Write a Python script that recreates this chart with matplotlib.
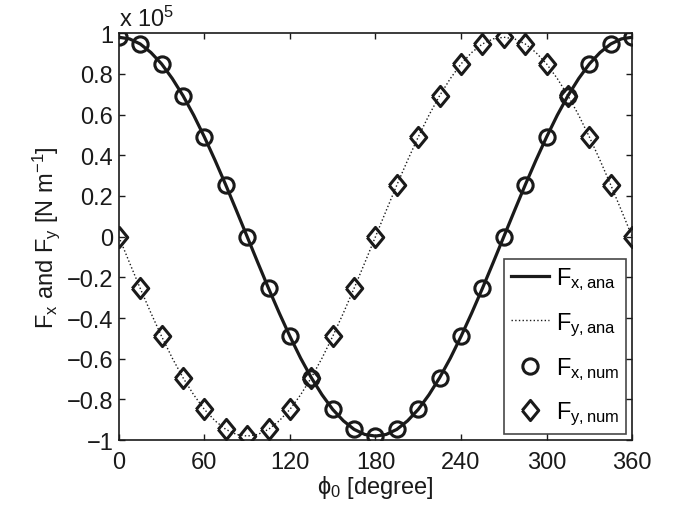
import numpy as np
import matplotlib
matplotlib.use('Agg')
import matplotlib.pyplot as plt

plt.rcParams['font.family'] = ['Liberation Sans', 'DejaVu Sans']
plt.rcParams['mathtext.fontset'] = 'custom'
plt.rcParams['mathtext.rm'] = 'Liberation Sans'
plt.rcParams['mathtext.it'] = 'Liberation Sans'
plt.rcParams['mathtext.sf'] = 'Liberation Sans'

# forces in units of 1e5 N/m
phi_ana = [0, 7.5, 15, 22.5, 30, 37.5, 45, 52.5, 60, 67.5, 75, 82.5, 90,
           97.5, 105, 112.5, 120, 127.5, 135, 142.5, 150, 157.5, 165, 172.5, 180,
           187.5, 195, 202.5, 210, 217.5, 225, 232.5, 240, 247.5, 255, 262.5, 270,
           277.5, 285, 292.5, 300, 307.5, 315, 322.5, 330, 337.5, 345, 352.5, 360]
fx_ana = [0.98, 0.972, 0.947, 0.905, 0.849, 0.777, 0.693, 0.597, 0.49, 0.375, 0.254, 0.128, 0,
          -0.128, -0.254, -0.375, -0.49, -0.597, -0.693, -0.777, -0.849, -0.905, -0.947, -0.972, -0.98,
          -0.972, -0.947, -0.905, -0.849, -0.777, -0.693, -0.597, -0.49, -0.375, -0.254, -0.128, 0,
          0.128, 0.254, 0.375, 0.49, 0.597, 0.693, 0.777, 0.849, 0.905, 0.947, 0.972, 0.98]
fy_ana = [0, -0.128, -0.254, -0.375, -0.49, -0.597, -0.693, -0.777, -0.849, -0.905, -0.947, -0.972, -0.98,
          -0.972, -0.947, -0.905, -0.849, -0.777, -0.693, -0.597, -0.49, -0.375, -0.254, -0.128, 0,
          0.128, 0.254, 0.375, 0.49, 0.597, 0.693, 0.777, 0.849, 0.905, 0.947, 0.972, 0.98,
          0.972, 0.947, 0.905, 0.849, 0.777, 0.693, 0.597, 0.49, 0.375, 0.254, 0.128, 0]

phi_num = [0, 15, 30, 45, 60, 75, 90, 105, 120, 135, 150, 165, 180,
           195, 210, 225, 240, 255, 270, 285, 300, 315, 330, 345, 360]
fx_num = [0.98, 0.947, 0.849, 0.693, 0.49, 0.254, 0, -0.254, -0.49, -0.693, -0.849, -0.947, -0.98,
          -0.947, -0.849, -0.693, -0.49, -0.254, 0, 0.254, 0.49, 0.693, 0.849, 0.947, 0.98]
fy_num = [0, -0.254, -0.49, -0.693, -0.849, -0.947, -0.98, -0.947, -0.849, -0.693, -0.49, -0.254, 0,
          0.254, 0.49, 0.693, 0.849, 0.947, 0.98, 0.947, 0.849, 0.693, 0.49, 0.254, 0]

fig = plt.figure(figsize=(6.79, 5.10), dpi=100)
ax = fig.add_axes([0.175, 0.135, 0.756, 0.798])

fs = 17
k = '#1a1a1a'
diamond = [(-0.82, 0), (0, 1), (0.82, 0), (0, -1), (-0.82, 0)]

ax.plot(phi_ana, fx_ana, '-', color=k, lw=2.3, label=r'$\mathregular{F_{x,ana}}$')
ax.plot(phi_ana, fy_ana, ':', color=k, lw=1.0, label=r'$\mathregular{F_{y,ana}}$')
ax.plot(phi_num, fx_num, 'o', color=k, mfc='none', ms=11, mew=2.2, label=r'$\mathregular{F_{x,num}}$')
ax.plot(phi_num, fy_num, marker=diamond, ls='none', color=k, mfc='none', ms=14.5, mew=2.2,
        label=r'$\mathregular{F_{y,num}}$')

ax.set_xlim(0, 360)
ax.set_ylim(-1, 1)
ax.set_xticks([0, 60, 120, 180, 240, 300, 360])
yt = [-1, -0.8, -0.6, -0.4, -0.2, 0, 0.2, 0.4, 0.6, 0.8, 1]
ax.set_yticks(yt)
ax.set_yticklabels([('%g' % v).replace('-', '\u2212') for v in yt])
ax.tick_params(direction='in', length=4, width=1, top=True, right=True, labelsize=fs,
               color=k, labelcolor=k)
ax.tick_params(axis='x', pad=8)
ax.tick_params(axis='y', pad=4)
for s in ax.spines.values():
    s.set_linewidth(1.2)
    s.set_color(k)

ax.set_xlabel(r'$\mathregular{\phi_0}$ [degree]', fontsize=fs, color=k, labelpad=0)
ax.set_ylabel(r'$\mathregular{F_x}$ and $\mathregular{F_y}$ [N m$\mathregular{^{-1}}$]', fontsize=fs,
              color=k, labelpad=3)
ax.text(0.0, 1.005, r'x 10$\mathregular{^5}$', transform=ax.transAxes, fontsize=fs, color=k,
        ha='left', va='bottom')

leg = ax.legend(loc='lower right', fontsize=fs, frameon=True, fancybox=False, edgecolor=k,
                handlelength=1.6, handletextpad=0.3, borderpad=0.3, labelspacing=0.75,
                borderaxespad=0.25)
leg.get_frame().set_linewidth(1.2)

fig.savefig('out.png', dpi=100)
